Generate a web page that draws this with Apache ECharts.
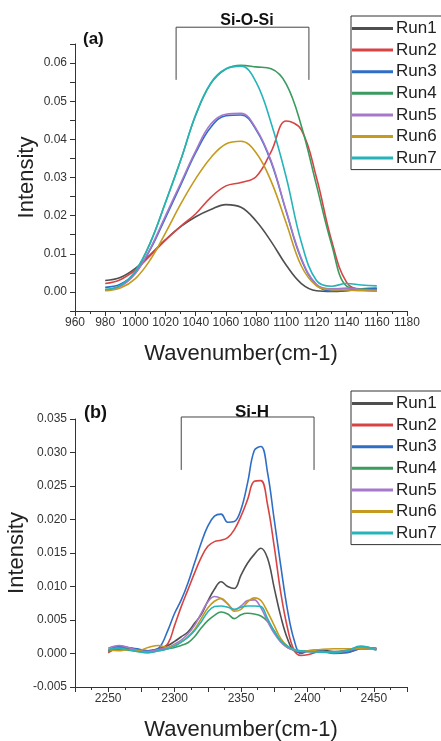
<!DOCTYPE html>
<html>
<head>
<meta charset="utf-8">
<script src="https://cdn.jsdelivr.net/npm/echarts@6/dist/echarts.min.js"></script>
<style>
  html, body { margin: 0; padding: 0; background: #fff; }
  #chart { width: 441px; height: 741px; }
</style>
</head>
<body>
<div id="chart"></div>
<script>
// panel (a) Si-O-Si
var runNames = ['Run1', 'Run2', 'Run3', 'Run4', 'Run5', 'Run6', 'Run7']
var runColors = ['#4f4f4f', '#d84444', '#2f6ec6', '#3b9b5f', '#a678cc', '#c49b1e', '#25b4ba']

var wavesA = [980, 990, 1000, 1010, 1020, 1030, 1040, 1050, 1060, 1070, 1080, 1090, 1100, 1110, 1120, 1130, 1140, 1150, 1160]
var run1A = [0.0030, 0.0038, 0.0062, 0.0098, 0.0137, 0.0171, 0.0197, 0.0216, 0.0229, 0.0222, 0.0186, 0.0132, 0.0070, 0.0022, 0.0003, 0.0001, 0.0003, 0.0007, 0.0008]
var run2A = [0.0022, 0.0032, 0.0058, 0.0096, 0.0136, 0.0172, 0.0205, 0.0248, 0.0278, 0.0287, 0.0302, 0.0368, 0.0448, 0.0425, 0.0300, 0.0135, 0.0025, 0.0005, 0.0003]
var run3A = [0.0012, 0.0020, 0.0050, 0.0112, 0.0195, 0.0280, 0.0365, 0.0432, 0.0462, 0.0464, 0.0425, 0.0340, 0.0210, 0.0085, 0.0018, 0.0002, 0.0004, 0.0008, 0.0010]
var run4A = [0.0006, 0.0016, 0.0054, 0.0130, 0.0235, 0.0345, 0.0463, 0.0546, 0.0584, 0.0594, 0.0590, 0.0585, 0.0545, 0.0435, 0.0280, 0.0125, 0.0015, 0.0008, 0.0005]
var run5A = [0.0005, 0.0014, 0.0048, 0.0115, 0.0200, 0.0285, 0.0370, 0.0440, 0.0466, 0.0468, 0.0428, 0.0343, 0.0212, 0.0088, 0.0020, 0.0008, 0.0010, 0.0006, 0.0004]
var run6A = [0.0003, 0.0010, 0.0035, 0.0085, 0.0155, 0.0230, 0.0297, 0.0352, 0.0388, 0.0395, 0.0365, 0.0290, 0.0180, 0.0068, 0.0016, 0.0006, 0.0005, 0.0003, 0.0002]
var run7A = [0.0006, 0.0017, 0.0055, 0.0130, 0.0235, 0.0345, 0.0465, 0.0548, 0.0585, 0.0592, 0.0550, 0.0442, 0.0300, 0.0130, 0.0030, 0.0015, 0.0022, 0.0018, 0.0016]

// panel (b) Si-H
var wavesB = [2250, 2258, 2265, 2272, 2280, 2288, 2295, 2300, 2305, 2310, 2315, 2320, 2325, 2330, 2335, 2340, 2345, 2350, 2355, 2360, 2365, 2370, 2375, 2380, 2385, 2390, 2395, 2400, 2410, 2420, 2430, 2440, 2452]
var run1B = [0.0005, 0.0008, 0.0008, 0.0006, 0.0004, 0.0007, 0.0012, 0.0018, 0.0025, 0.0032, 0.0045, 0.0058, 0.0078, 0.0096, 0.0107, 0.0100, 0.0097, 0.0117, 0.0135, 0.0148, 0.0157, 0.0142, 0.0098, 0.0055, 0.0022, 0.0004, 0.0002, 0.0004, 0.0005, 0.0003, 0.0004, 0.0008, 0.0007]
var run2B = [0.0001, 0.0008, 0.0006, 0.0005, 0.0003, 0.0006, 0.0015, 0.0042, 0.0070, 0.0095, 0.0120, 0.0143, 0.0160, 0.0167, 0.0169, 0.0173, 0.0185, 0.0205, 0.0230, 0.0257, 0.0258, 0.0222, 0.0160, 0.0090, 0.0038, 0.0005, -0.0003, -0.0002, 0.0003, 0.0002, 0.0002, 0.0007, 0.0006]
var run3B = [0.0004, 0.0011, 0.0009, 0.0007, 0.0004, 0.0008, 0.0035, 0.0060, 0.0080, 0.0105, 0.0135, 0.0165, 0.0190, 0.0205, 0.0208, 0.0196, 0.0197, 0.0215, 0.0255, 0.0303, 0.0309, 0.0270, 0.0200, 0.0130, 0.0065, 0.0020, 0.0000, 0.0003, 0.0004, 0.0000, 0.0001, 0.0007, 0.0008]
var run4B = [0.0003, 0.0006, 0.0005, 0.0003, 0.0002, 0.0004, 0.0007, 0.0009, 0.0012, 0.0016, 0.0025, 0.0038, 0.0049, 0.0057, 0.0062, 0.0059, 0.0052, 0.0058, 0.0060, 0.0059, 0.0056, 0.0048, 0.0034, 0.0018, 0.0009, 0.0005, 0.0003, 0.0003, 0.0002, 0.0002, 0.0005, 0.0010, 0.0007]
var run5B = [0.0008, 0.0012, 0.0009, 0.0005, 0.0003, 0.0006, 0.0009, 0.0014, 0.0020, 0.0029, 0.0042, 0.0060, 0.0077, 0.0085, 0.0082, 0.0074, 0.0065, 0.0071, 0.0079, 0.0080, 0.0068, 0.0048, 0.0030, 0.0017, 0.0009, 0.0005, 0.0003, 0.0003, 0.0002, 0.0002, 0.0004, 0.0009, 0.0007]
var run6B = [0.0006, 0.0004, 0.0006, 0.0004, 0.0009, 0.0012, 0.0009, 0.0012, 0.0017, 0.0025, 0.0036, 0.0052, 0.0068, 0.0078, 0.0082, 0.0074, 0.0063, 0.0066, 0.0077, 0.0083, 0.0079, 0.0062, 0.0042, 0.0022, 0.0011, 0.0006, 0.0004, 0.0004, 0.0006, 0.0007, 0.0007, 0.0007, 0.0006]
var run7B = [0.0006, 0.0008, 0.0006, 0.0003, 0.0001, 0.0004, 0.0007, 0.0011, 0.0017, 0.0024, 0.0034, 0.0047, 0.0062, 0.0070, 0.0071, 0.0069, 0.0066, 0.0069, 0.0071, 0.0071, 0.0070, 0.0052, 0.0033, 0.0019, 0.0011, 0.0006, 0.0004, 0.0003, 0.0002, 0.0001, 0.0004, 0.0011, 0.0005]

// brackets over the bands
var bracketA = [[1027, 0.0556], [1027, 0.0694], [1115, 0.0694], [1115, 0.0556]]
var bracketB = [[2305, 0.0274], [2305, 0.0353], [2405, 0.0353], [2405, 0.0274]]

var runsA = [run1A, run2A, run3A, run4A, run5A, run6A, run7A]
var runsB = [run1B, run2B, run3B, run4B, run5B, run6B, run7B]

function pair(xs, ys) {
  return xs.map(function(x, i) { return [x, ys[i]] })
}

var font = 'Liberation Sans, Arial, sans-serif'
var axisColor = '#333'

function xAxisOpt(idx, min, max, interval, fmt) {
  return {
    gridIndex: idx,
    type: 'value',
    min: min,
    max: max,
    interval: interval,
    name: 'Wavenumber(cm-1)',
    nameLocation: 'middle',
    nameGap: 32,
    nameMoveOverlap: false,
    nameTextStyle: { fontSize: 22, color: '#222', fontFamily: font },
    axisLine: { show: true, onZero: false, lineStyle: { color: axisColor, width: 1 } },
    axisTick: { show: true, length: 5, lineStyle: { color: axisColor } },
    minorTick: { show: true, splitNumber: 2, length: 3, lineStyle: { color: axisColor } },
    axisLabel: { fontSize: 12, color: '#333', fontFamily: font, margin: 6, formatter: fmt },
    splitLine: { show: false }
  }
}

function yAxisOpt(idx, min, max, interval, gap, fmt) {
  return {
    gridIndex: idx,
    type: 'value',
    min: min,
    max: max,
    interval: interval,
    name: 'Intensity',
    nameLocation: 'middle',
    nameGap: gap,
    nameMoveOverlap: false,
    nameTextStyle: { fontSize: 22, color: '#222', fontFamily: font },
    axisLine: { show: true, onZero: false, lineStyle: { color: axisColor, width: 1 } },
    axisTick: { show: true, length: 5, lineStyle: { color: axisColor } },
    minorTick: { show: false },
    axisLabel: { fontSize: 12, color: '#333', fontFamily: font, margin: 8, formatter: fmt },
    splitLine: { show: false }
  }
}

var series = []
runNames.forEach(function(name, i) {
  series.push({
    name: name, type: 'line', xAxisIndex: 0, yAxisIndex: 0,
    data: pair(wavesA, runsA[i]), smooth: 0.4, showSymbol: false,
    lineStyle: { width: 1.6, color: runColors[i] }, itemStyle: { color: runColors[i] }
  })
})
runNames.forEach(function(name, i) {
  series.push({
    name: name, type: 'line', xAxisIndex: 1, yAxisIndex: 1,
    data: pair(wavesB, runsB[i]), smooth: 0.4, showSymbol: false,
    lineStyle: { width: 1.6, color: runColors[i] }, itemStyle: { color: runColors[i] }
  })
})
series.push({
  type: 'line', xAxisIndex: 0, yAxisIndex: 0, data: bracketA, clip: false,
  showSymbol: false, silent: true, lineStyle: { color: '#444', width: 1 }
})
series.push({
  type: 'line', xAxisIndex: 1, yAxisIndex: 1, data: bracketB, clip: false,
  showSymbol: false, silent: true, lineStyle: { color: '#444', width: 1 }
})

function legendOpt(top) {
  return {
    data: runNames,
    orient: 'vertical',
    left: 351,
    top: top,
    width: 100,
    itemWidth: 41,
    itemHeight: 3,
    itemGap: 4.6,
    padding: [4, 10, 3, 1],
    borderColor: '#333',
    borderWidth: 1,
    icon: 'rect',
    textStyle: { fontSize: 17, lineHeight: 17, color: '#222', fontFamily: font, padding: [0, 0, 0, -2] }
  }
}

var chart = echarts.init(document.getElementById('chart'), null, { renderer: 'canvas' })
chart.setOption({
  backgroundColor: '#fff',
  animation: false,
  grid: [
    { left: 75, top: 44, width: 332, height: 267, containLabel: false, outerBoundsMode: 'none' },
    { left: 75, top: 419, width: 332, height: 268, containLabel: false, outerBoundsMode: 'none' }
  ],
  xAxis: [
    xAxisOpt(0, 960, 1180, 20, function(v) { return String(v) }),
    xAxisOpt(1, 2225, 2475, 25, function(v) { return v % 50 === 0 ? String(v) : '' })
  ],
  yAxis: [
    yAxisOpt(0, -0.005, 0.065, 0.005, 37, function(v) {
      var k = Math.round(v * 1000)
      return (k % 10 === 0 && k >= 0 && k <= 60) ? v.toFixed(2) : ''
    }),
    yAxisOpt(1, -0.005, 0.035, 0.005, 47, function(v) { return v.toFixed(3) })
  ],
  legend: [legendOpt(16), legendOpt(391)],
  title: [
    { text: '(a)', left: 78, top: 26, textStyle: { fontSize: 17, fontWeight: 'bold', color: '#111', fontFamily: font } },
    { text: 'Si-O-Si', left: 242, top: 8, textAlign: 'center', textStyle: { fontSize: 16, fontWeight: 'bold', color: '#111', fontFamily: font } },
    { text: '(b)', left: 79, top: 399, textStyle: { fontSize: 18, fontWeight: 'bold', color: '#111', fontFamily: font } },
    { text: 'Si-H', left: 247, top: 399, textAlign: 'center', textStyle: { fontSize: 17, fontWeight: 'bold', color: '#111', fontFamily: font } }
  ],
  series: series
})
</script>
</body>
</html>
